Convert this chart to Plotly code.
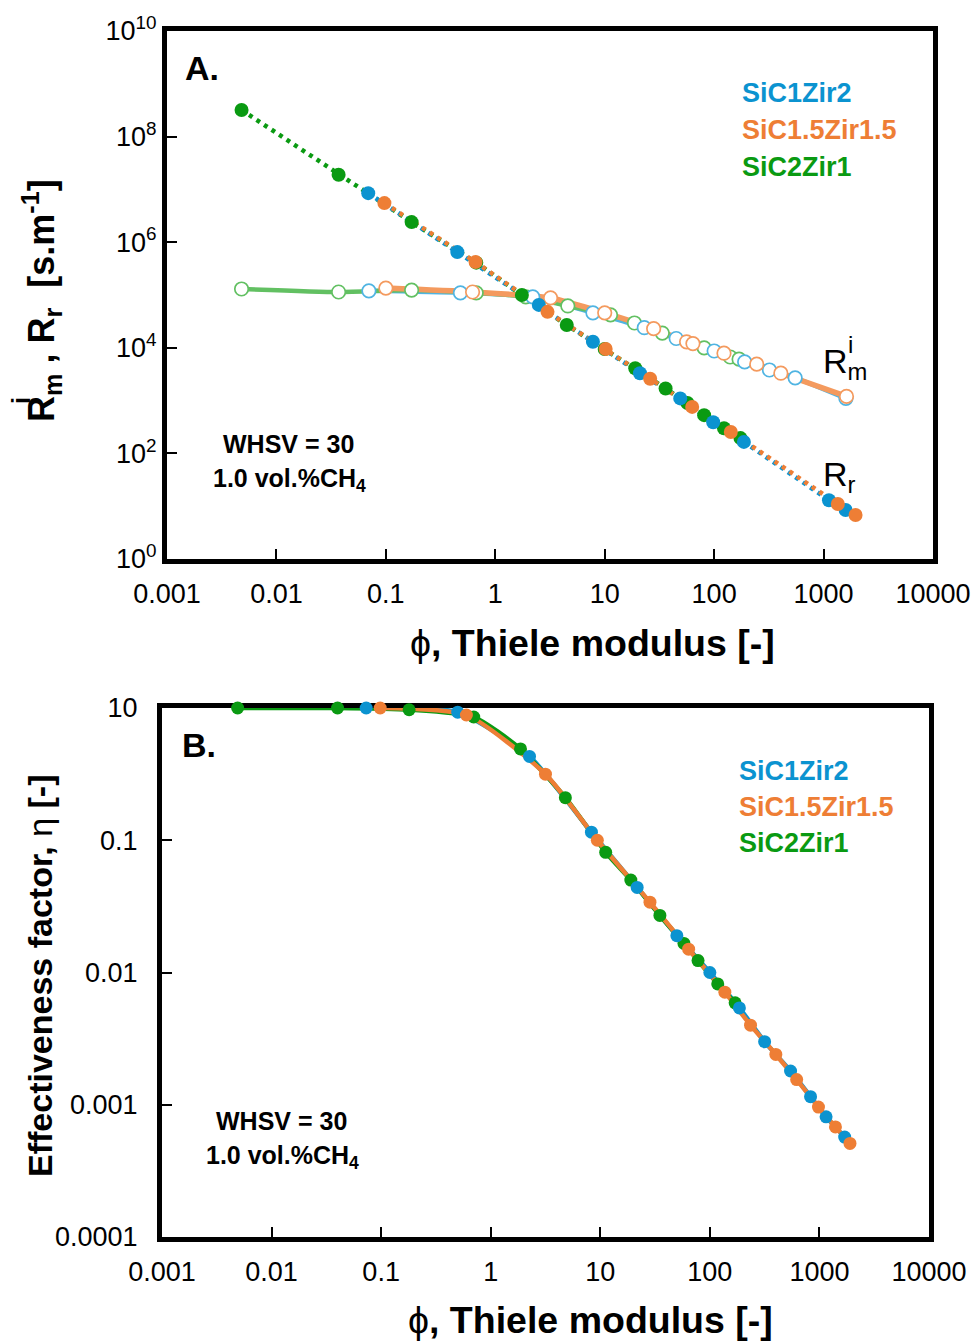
import plotly.graph_objects as go

W, H = 978, 1344
FONT = "Liberation Sans, Arial, sans-serif"

BLUE, ORANGE, GREEN = "#0B93D0", "#EE7E35", "#0A9A12"
BLUE_L, ORANGE_L, GREEN_L = "#4FB4E2", "#F49A5E", "#62C062"

series_names = ["SiC1Zir2", "SiC1.5Zir1.5", "SiC2Zir1"]

# ---------------- Panel A: resistances ----------------
blue_rr_x = [0.069, 0.45, 2.5, 7.8, 21, 49, 98, 187, 1120, 1590]
blue_rr_y = [8.5e6, 6.5e5, 6.5e4, 1.3e4, 3.3e3, 1.1e3, 390, 165, 13, 8.5]
orange_rr_x = [0.097, 0.66, 3.0, 10.2, 26, 63, 142, 1350, 1960]
orange_rr_y = [5.5e6, 4.2e5, 4.8e4, 9.5e3, 2.6e3, 760, 255, 11, 6.8]
green_rr_x = [0.0048, 0.037, 0.172, 0.67, 1.75, 4.5, 10, 19, 36, 57, 81, 123, 174]
green_rr_y = [3.2e8, 1.9e7, 2.4e6, 4.1e5, 1.0e5, 2.7e4, 9.5e3, 4.1e3, 1.7e3, 900, 530, 300, 195]

blue_rm_x = [0.07, 0.48, 2.2, 7.8, 23, 45, 100, 190, 320, 550, 1600]
blue_rm_y = [1.2e5, 1.1e5, 9.2e4, 4.6e4, 2.4e4, 1.5e4, 8.7e3, 5.4e3, 3.8e3, 2.7e3, 1.1e3]
orange_rm_x = [0.1, 0.62, 3.2, 10, 28, 56, 64, 123, 245, 407, 1620]
orange_rm_y = [1.35e5, 1.14e5, 8.8e4, 4.6e4, 2.3e4, 1.3e4, 1.2e4, 7.9e3, 4.9e3, 3.3e3, 1.2e3]
green_rm_x = [0.0048, 0.037, 0.172, 0.67, 1.9, 4.6, 11.3, 18.7, 33.6, 81, 140, 169]
green_rm_y = [1.3e5, 1.14e5, 1.24e5, 1.1e5, 9.2e4, 6.2e4, 4.2e4, 2.95e4, 1.9e4, 1.0e4, 6.7e3, 6.1e3]

# ---------------- Panel B: effectiveness factor ----------------
blue_eta_x = [0.073, 0.5, 2.26, 8.3, 21.7, 50, 100, 186, 316, 545, 830, 1150, 1700]
blue_eta_y = [1.0, 0.93, 0.43, 0.115, 0.044, 0.019, 0.010, 0.0054, 0.0030, 0.0018, 0.00115, 0.00081, 0.00057]
orange_eta_x = [0.098, 0.6, 3.16, 9.4, 28.4, 64, 137, 235, 400, 620, 980, 1400, 1900]
orange_eta_y = [1.0, 0.885, 0.316, 0.10, 0.034, 0.015, 0.0071, 0.0040, 0.0024, 0.00155, 0.00096, 0.00068, 0.00051]
green_eta_x = [0.0049, 0.04, 0.18, 0.7, 1.87, 4.8, 11.2, 19, 35, 58, 78, 118, 170]
green_eta_y = [1.0, 1.0, 0.97, 0.855, 0.49, 0.21, 0.081, 0.050, 0.027, 0.0166, 0.0123, 0.0082, 0.0059]

x_tickvals = [1e-3, 1e-2, 1e-1, 1, 10, 100, 1000, 10000]
x_ticktext = ["0.001", "0.01", "0.1", "1", "10", "100", "1000", "10000"]
ya_tickvals = [1, 1e2, 1e4, 1e6, 1e8, 1e10]
ya_ticktext = ["10<sup>0</sup>", "10<sup>2</sup>", "10<sup>4</sup>", "10<sup>6</sup>", "10<sup>8</sup>", "10<sup>10</sup>"]
yb_tickvals = [1e-4, 1e-3, 1e-2, 1e-1, 1]
yb_ticktext = ["0.0001", "0.001", "0.01", "0.1", "10"]

fig = go.Figure()

# Panel A lines (Rm solid, Rr dotted)
for xs, ys, c, w in [(blue_rm_x, blue_rm_y, BLUE_L, 4.5), (green_rm_x, green_rm_y, GREEN_L, 4.5),
                     (orange_rm_x, orange_rm_y, ORANGE_L, 5.5)]:
    fig.add_trace(go.Scatter(x=xs, y=ys, mode="lines", line=dict(color=c, width=w, shape="spline", smoothing=0.6),
                             xaxis="x", yaxis="y", showlegend=False, hoverinfo="skip"))
for xs, ys, c in [(green_rr_x, green_rr_y, GREEN), (blue_rr_x, blue_rr_y, BLUE), (orange_rr_x, orange_rr_y, ORANGE)]:
    fig.add_trace(go.Scatter(x=xs, y=ys, mode="lines", line=dict(color=c, width=4.5, dash="4px,5px"),
                             xaxis="x", yaxis="y", showlegend=False, hoverinfo="skip"))
# Panel A markers
for xs, ys, c in [(green_rm_x, green_rm_y, GREEN_L), (blue_rm_x, blue_rm_y, BLUE_L), (orange_rm_x, orange_rm_y, ORANGE_L)]:
    fig.add_trace(go.Scatter(x=xs, y=ys, mode="markers",
                             marker=dict(size=13.5, color="white", line=dict(color=c, width=1.7)),
                             xaxis="x", yaxis="y", showlegend=False, cliponaxis=False))
for xs, ys, c in [(green_rr_x, green_rr_y, GREEN), (blue_rr_x, blue_rr_y, BLUE), (orange_rr_x, orange_rr_y, ORANGE)]:
    fig.add_trace(go.Scatter(x=xs, y=ys, mode="markers",
                             marker=dict(size=14, color=c, line=dict(width=0)),
                             xaxis="x", yaxis="y", showlegend=False, cliponaxis=False))

# Panel B lines
for xs, ys, c in [(blue_eta_x, blue_eta_y, BLUE), (green_eta_x, green_eta_y, GREEN), (orange_eta_x, orange_eta_y, ORANGE)]:
    fig.add_trace(go.Scatter(x=xs, y=ys, mode="lines", line=dict(color=c, width=4.5, shape="spline", smoothing=0.6),
                             xaxis="x2", yaxis="y2", showlegend=False, hoverinfo="skip", cliponaxis=False))
for xs, ys, c in [(green_eta_x, green_eta_y, GREEN), (blue_eta_x, blue_eta_y, BLUE), (orange_eta_x, orange_eta_y, ORANGE)]:
    fig.add_trace(go.Scatter(x=xs, y=ys, mode="markers",
                             marker=dict(size=13, color=c, line=dict(width=0)),
                             xaxis="x2", yaxis="y2", showlegend=False, cliponaxis=False))


def px_x(x):
    return x / W


def px_y(y):
    return 1 - y / H


axis_common = dict(type="log", showgrid=False, zeroline=False, showline=True, linecolor="black", linewidth=5,
                   mirror=True, ticks="inside", ticklen=10, tickwidth=2, tickcolor="black", automargin=False,
                   tickfont=dict(size=27, color="black", family=FONT), layer="below traces")

fig.update_layout(
    width=W, height=H, margin=dict(l=0, r=0, t=0, b=0, pad=0, autoexpand=False),
    paper_bgcolor="white", plot_bgcolor="white",
    font=dict(family=FONT, color="black"),
    xaxis=dict(axis_common, domain=[px_x(167), px_x(933)], anchor="y", range=[-3, 4],
               tickvals=x_tickvals, ticktext=x_ticktext, ticklabelstandoff=7),
    yaxis=dict(axis_common, domain=[px_y(559), px_y(31)], anchor="x", range=[0, 10],
               tickvals=ya_tickvals, ticktext=ya_ticktext, ticklabelstandoff=0),
    xaxis2=dict(axis_common, domain=[px_x(162), px_x(929)], anchor="y2", range=[-3, 4],
                tickvals=x_tickvals, ticktext=x_ticktext, ticklabelstandoff=7),
    yaxis2=dict(axis_common, domain=[px_y(1237), px_y(708)], anchor="x2", range=[-4, 0],
                tickvals=yb_tickvals, ticktext=yb_ticktext, ticklabelstandoff=14),
)


def ann(text, x, y, size, color="black", xanchor="center", yanchor="middle", angle=0):
    return dict(text=text, x=px_x(x), y=px_y(y), xref="paper", yref="paper", showarrow=False,
                font=dict(size=size, color=color, family=FONT), xanchor=xanchor, yanchor=yanchor,
                textangle=angle)


anns = [
    ann("<b>A.</b>", 202, 68, 34),
    ann("<b>B.</b>", 199, 745, 34),
    ann("<b>SiC1Zir2</b>", 740, 93, 27, BLUE, xanchor="left"),
    ann("<b>SiC1.5Zir1.5</b>", 740, 130, 27, ORANGE, xanchor="left"),
    ann("<b>SiC2Zir1</b>", 740, 167, 27, GREEN, xanchor="left"),
    ann("<b>SiC1Zir2</b>", 737, 771, 27, BLUE, xanchor="left"),
    ann("<b>SiC1.5Zir1.5</b>", 737, 807, 27, ORANGE, xanchor="left"),
    ann("<b>SiC2Zir1</b>", 737, 843, 27, GREEN, xanchor="left"),
    ann("<b>WHSV = 30</b>", 288, 444, 25),
    ann("<b>1.0 vol.%CH<sub>4</sub></b>", 289, 480, 25),
    ann("<b>WHSV = 30</b>", 281, 1121, 25),
    ann("<b>1.0 vol.%CH<sub>4</sub></b>", 282, 1157, 25),
    ann("R<sub>m</sub>", 821, 364, 34, xanchor="left"),
    ann("i", 850, 344, 24, xanchor="center"),
    ann("R<sub>r</sub>", 821, 476, 34, xanchor="left"),
    ann("ϕ<b>, Thiele modulus [-]</b>", 592, 643, 37.5),
    ann("ϕ<b>, Thiele modulus [-]</b>", 590, 1320, 37.5),
    ann("<b>R<sub>m</sub> , R<sub>r</sub>\u00a0\u00a0[s.m<sup>-1</sup>]</b>", 41, 301, 36, angle=-90),
    ann("<b>i</b>", 21, 401, 25, angle=-90),
    ann("<b>Effectiveness factor, </b>η<b> [-]</b>", 40, 976, 34, angle=-90),
]
fig.update_layout(annotations=anns)

fig.write_html("out.html")
